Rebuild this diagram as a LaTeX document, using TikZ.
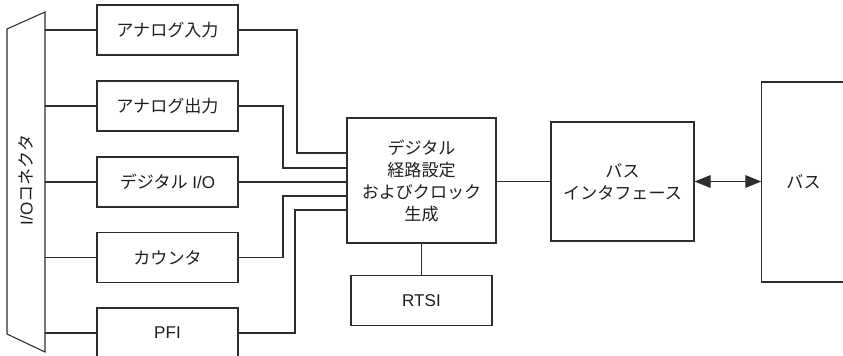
\documentclass[tikz,border=0pt]{standalone}
\usepackage{fontspec}
\setmainfont{Noto Sans CJK JP}
\newfontfamily\lat{Liberation Sans}
\usetikzlibrary{arrows.meta}
\definecolor{ln}{RGB}{45,45,45}
\definecolor{tx}{RGB}{30,30,30}
\begin{document}
\begin{tikzpicture}[x=0.75pt,y=-0.75pt,
  line width=0.8pt, draw=ln, text=tx,
  every node/.style={font=\fontsize{12.8}{16.5}\selectfont},
  sbox/.style={draw=ln, line width=0.8pt, inner sep=0pt, minimum width=105.75pt, minimum height=37.5pt, align=center},
  wire/.style={draw=ln, line width=0.8pt},
  bigarrow/.style={draw=ln, line width=0.8pt, {Triangle[length=12pt,width=9.5pt]}-{Triangle[length=12pt,width=9.5pt]}}]
\useasboundingbox (0,0) rectangle (843,355);
\begin{scope}
\clip (0,0) rectangle (843,355);
% I/O connector
\draw[wire] (7,29) -- (45,12) -- (45,352) -- (7,334) -- cycle;
\coordinate (connR) at (45,180);
\node[rotate=90] (conn) at (26,180) {{\lat I/O}コネクタ};
% left boxes
\node[sbox] (b1) at (167.5,30) {アナログ入力};
\node[sbox] (b2) at (167.5,106) {アナログ出力};
\node[sbox] (b3) at (167.5,182) {デジタル{\lat\ I/O}};
\node[sbox] (b4) at (167.5,257.5) {カウンタ};
\node[sbox] (b5) at (167.5,333) {\lat PFI};
% center
\node[sbox, minimum width=111.75pt, minimum height=93.75pt] (drc) at (421.5,180.5) {デジタル\\経路設定\\およびクロック\\生成};
\node[sbox] (rtsi) at (421.5,300.5) {\lat RTSI};
\node[sbox, minimum width=107.25pt, minimum height=89.25pt] (bi) at (622.5,181.5) {バス\\インタフェース};
\node[sbox, minimum width=62.5pt, minimum height=150pt] (bus) at (803.5,182) {バス};
% connector wires
\foreach \b in {b1,b2,b3,b4,b5}{
  \draw[wire] (\b.west) -- (\b.west -| connR);
}
\coordinate (j1) at (297,153);
\coordinate (j2) at (283,168);
\coordinate (j4) at (283,196);
\coordinate (j5) at (295,210);
\draw[wire] (b1.east) -| (j1) -- (j1 -| drc.west);
\draw[wire] (b2.east) -| (j2) -- (j2 -| drc.west);
\draw[wire] (b3.east) -- (b3.east -| drc.west);
\draw[wire] (b4.east) -| (j4) -- (j4 -| drc.west);
\draw[wire] (b5.east) -| (j5) -- (j5 -| drc.west);
\draw[wire] (drc.south) -- (rtsi.north);
\draw[wire] (bi.west -| drc.east) -- (bi.west);
\draw[bigarrow] (bi.east) -- (bi.east -| bus.west);
\end{scope}
\end{tikzpicture}
\end{document}
